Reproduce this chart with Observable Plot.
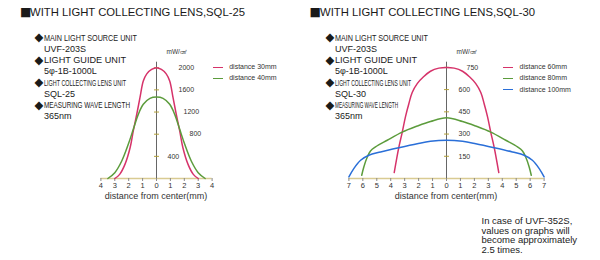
<!DOCTYPE html>
<html><head><meta charset="utf-8">
<script src="https://cdn.jsdelivr.net/npm/d3@7"></script>
<script src="https://cdn.jsdelivr.net/npm/@observablehq/plot@0.6"></script>
<style>
body{margin:0;background:#fff;}
#root{position:relative;width:600px;height:260px;overflow:hidden;font-family:"Liberation Sans",Arial,sans-serif;color:#1a1a1a;}
.abs{position:absolute;white-space:nowrap;}
.fit{display:inline-block;transform-origin:0 50%;}
.title{font-size:11.5px;line-height:14px;}
.sq{font-family:"DejaVu Sans",sans-serif;font-size:12px;line-height:14px;}
.spec{font-size:9px;line-height:10px;}
.dia{font-family:"DejaVu Sans",sans-serif;font-size:11.5px;line-height:10px;}
.leg{font-size:7px;line-height:8px;color:#333;}
.legline{position:absolute;height:0;border-top:1.5px solid;width:10px;}
.unit{font-size:6.5px;line-height:8px;color:#333;}
.xlab{font-size:9px;line-height:10px;color:#333;}
.note{font-size:9.5px;line-height:9.6px;color:#222;}
</style></head>
<body><div id="root"></div>
<script>
// ---------- data ----------
const titleMark = "■";
const leftTitle = "WITH LIGHT COLLECTING LENS,SQL-25";
const rightTitle = "WITH LIGHT COLLECTING LENS,SQL-30";
const specLeft = ["MAIN LIGHT SOURCE UNIT","UVF-203S","LIGHT GUIDE UNIT","5φ-1B-1000L","LIGHT COLLECTING LENS UNIT","SQL-25","MEASURING WAVE LENGTH","365nm"];
const specRight = ["MAIN LIGHT SOURCE UNIT","UVF-203S","LIGHT GUIDE UNIT","5φ-1B-1000L","LIGHT COLLECTING LENS UNIT","SQL-30","MEASURING WAVE LENGTH","365nm"];
const unitLabel = "mW/㎠";
const xAxisTitle = "distance from center(mm)";
const noteLines = ["In case of UVF-352S,","values on graphs will","become approximately","2.5 times."];

const leftNames = ["distance 30mm","distance 40mm"];
const leftXTicks = [-4,-3,-2,-1,0,1,2,3,4];
const leftYTicks = [400,800,1200,1600,2000];
const left30x = [-3,-2.65,-2.27,-1.9,-1.67,-1.42,-1.19,-0.95,-0.7,-0.35,0,0.35,0.7,0.95,1.19,1.42,1.67,1.9,2.27,2.65,3];
const left30y = [0,75,255,555,860,1160,1460,1760,1890,1970,2000,1970,1890,1760,1460,1160,860,555,255,75,0];
const left40x = [-3.5,-3,-2.5,-2.03,-1.67,-1.31,-0.95,-0.47,0,0.47,0.95,1.31,1.67,2.03,2.5,3,3.5];
const left40y = [0,105,316,617,888,1158,1340,1447,1470,1447,1340,1158,888,617,316,105,0];

const rightNames = ["distance 60mm","distance 80mm","distance 100mm"];
const rightXTicks = [-7,-6,-5,-4,-3,-2,-1,0,1,2,3,4,5,6,7];
const rightYTicks = [150,300,450,600,750];
const right60x = [-3.75,-3.42,-3.18,-2.94,-2.7,-2.46,-2.1,-1.63,-1.15,-0.55,0,0.55,1.15,1.63,2.1,2.46,2.7,2.94,3.18,3.42,3.75];
const right60y = [40,210,310,418,505,580,640,688,724,745,750,745,724,688,640,580,505,418,310,210,40];
const right80x = [-6.08,-5.93,-5.68,-5.45,-5.09,-4.25,-3.18,-2.1,-1.15,0,1.15,2.1,3.18,4.25,5.09,5.45,5.68,5.93,6.08];
const right80y = [22,78,145,186,213,258,313,354,385,410,385,354,313,258,213,186,145,78,22];
const right100x = [-7,-6.65,-6.16,-5.57,-4.73,-3.42,-2.1,-1.15,0,1.15,2.1,3.42,4.73,5.57,6.16,6.65,7];
const right100y = [11,67,123,157,179,208,235,251,258,251,235,208,179,157,123,67,11];

// ---------- styling ----------
const colors3 = ["#d6336a","#5c9c3c","#2a6fd8"];
const root = document.getElementById("root");

function el(cls, text, left, top){
  const d = document.createElement("div");
  d.className = "abs " + cls;
  d.style.left = left + "px"; d.style.top = top + "px";
  if (text != null) d.textContent = text;
  root.appendChild(d);
  return d;
}
function fitText(cls, text, left, top, width){
  const d = el(cls, null, left, top);
  const s = document.createElement("span");
  s.className = "fit"; s.textContent = text;
  d.appendChild(s);
  const w = s.getBoundingClientRect().width;
  s.style.transform = `scaleX(${width / w})`;
  return d;
}

// titles
el("sq", titleMark, 20, 4.5);
fitText("title", leftTitle, 30, 5, 215);
el("sq", titleMark, 309.5, 4.5);
fitText("title", rightTitle, 320, 5, 215);

// spec blocks
function specBlock(lines, x, widths){
  lines.forEach((t, i) => {
    const top = 37.8 + i * 11.2 - 5;
    if (i % 2 === 0) {
      el("dia", "◆", x - 1, top - 0.5);
      fitText("spec", t, x + 8, top, widths[i / 2]);
    } else {
      el("spec", t, x + 8.5, top);
    }
  });
}
specBlock(specLeft, 35.5, [93, 82, 82, 86]);
specBlock(specRight, 326.5, [93, 82, 76, 63]);

// legends
function legend(names, x, y0){
  names.forEach((n, i) => {
    const y = y0 + i * 11.4;
    const l = document.createElement("div");
    l.className = "legline";
    l.style.left = x + "px"; l.style.top = (y - 0.75) + "px";
    l.style.borderColor = colors3[i];
    root.appendChild(l);
    el("leg", n, x + 16.5, y - 4.5);
  });
}
legend(leftNames, 212.7, 67.3);
legend(rightNames, 503, 67.3);

el("unit", unitLabel, 166.5, 48);
el("unit", unitLabel, 456.5, 48);

// notes
noteLines.forEach((t, i) => el("note", t, 481.5, 216 + i * 9.6));

// ---------- plots ----------
const dash = {draw(ctx){ ctx.moveTo(-2.5, 0); ctx.lineTo(2.5, 0); }};

function panel(opts){
  const {series, names, xTicks, yTicks, yMax, width, ml, mr, tickDx} = opts;
  const data = series.flatMap((s, k) => s[0].map((x, i) => ({x, y: s[1][i], name: names[k]})));
  const textMarks = yTicks.map(t => Plot.text([t], {x: () => 0, y: d => d, text: d => String(d),
    dx: tickDx(t), textAnchor: "start", fontSize: 7, fill: "#333"}));
  return Plot.plot({
    width, height: 170,
    marginLeft: ml, marginRight: mr, marginTop: 21.7, marginBottom: 32,
    x: {domain: [xTicks[0], xTicks[xTicks.length - 1]], axis: null},
    y: {domain: [0, yMax], axis: null},
    color: {domain: names, range: colors3},
    style: {fontFamily: "Liberation Sans, Arial, sans-serif", background: "transparent", overflow: "visible", color: "#333"},
    marks: [
      Plot.ruleY([0], {stroke: "#d9cb92", strokeWidth: 1.5}),
      Plot.axisX({ticks: xTicks, tickFormat: d => Math.abs(d), tickSize: 3, tickPadding: 1.5,
        stroke: "#8a8a8a", fontSize: 7.5, label: null}),
      Plot.ruleX([0], {stroke: "#666", strokeWidth: 1}),
      Plot.dot(yTicks, {x: () => 0, y: d => d, symbol: dash, stroke: "#b4a23a", strokeWidth: 1, fill: "none"}),
      ...textMarks,
      Plot.line(data, {x: "x", y: "y", z: "name", stroke: "name", curve: "catmull-rom", strokeWidth: 1.5})
    ]
  });
}

const leftPlot = panel({
  series: [[left30x, left30y], [left40x, left40y]], names: leftNames,
  xTicks: leftXTicks, yTicks: leftYTicks, yMax: 2100, width: 150, ml: 20.4, mr: 18.4,
  tickDx: t => ({400: 11, 800: 33, 1200: 27}[t] ?? 22)
});
const lp = document.createElement("div");
lp.className = "abs"; lp.style.left = "80px"; lp.style.top = "40px";
lp.appendChild(leftPlot); root.appendChild(lp);

const rightPlot = panel({
  series: [[right60x, right60y], [right80x, right80y], [right100x, right100y]], names: rightNames,
  xTicks: rightXTicks, yTicks: rightYTicks, yMax: 785, width: 240, ml: 18.4, mr: 26.4,
  tickDx: t => (t === 750 ? 20 : 12)
});
const rp = document.createElement("div");
rp.className = "abs"; rp.style.left = "330px"; rp.style.top = "40px";
rp.appendChild(rightPlot); root.appendChild(rp);

// x axis titles
const xl1 = el("xlab", xAxisTitle, 0, 191); xl1.style.left = (156 - xl1.getBoundingClientRect().width / 2) + "px";
const xl2 = el("xlab", xAxisTitle, 0, 191); xl2.style.left = (446 - xl2.getBoundingClientRect().width / 2) + "px";
</script></body></html>
